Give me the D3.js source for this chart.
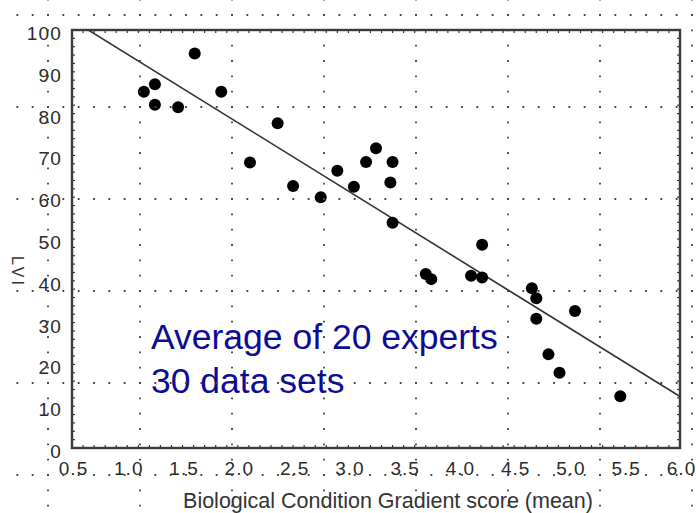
<!DOCTYPE html>
<html>
<head>
<meta charset="utf-8">
<script src="https://cdn.jsdelivr.net/npm/d3@7"></script>
<style>
  html, body { margin: 0; padding: 0; background: #fff; }
  svg { display: block; }
</style>
</head>
<body>
<svg id="chart" width="696" height="513"></svg>
<script>
// BCG score (mean of experts) for each data set
const bcgScore = [1.15, 1.25, 1.25, 1.46, 1.61, 1.85, 2.11, 2.36, 2.50, 2.75,
                  2.90, 3.05, 3.16, 3.25, 3.40, 3.38, 3.40, 3.70, 3.75, 4.11,
                  4.21, 4.21, 4.66, 4.70, 4.70, 5.05, 4.81, 4.91, 5.46];
// LVI value for each data set
const lviValue = [85.2, 87.0, 82.1, 81.5, 94.4, 85.2, 68.3, 77.7, 62.7, 60.0,
                  66.3, 62.5, 68.4, 71.7, 68.4, 63.5, 53.9, 41.6, 40.4, 41.2,
                  40.8, 48.6, 38.2, 35.8, 30.9, 32.8, 22.4, 18.0, 12.4];
// Least-squares fit: LVI = intercept + slope * BCG
const fitIntercept = 110.6;
const fitSlope = -16.38;

const xTicks = [0.5, 1.0, 1.5, 2.0, 2.5, 3.0, 3.5, 4.0, 4.5, 5.0, 5.5, 6.0];
const yTicks = [0, 10, 20, 30, 40, 50, 60, 70, 80, 90, 100];
const noteLines = ["Average of 20 experts", "30 data sets"];

const W = 696, H = 513;
const plot = { left: 72, right: 680, top: 30, bottom: 448 };

const svg = d3.select("#chart");
const x = d3.scaleLinear().domain([0.5, 6.0]).range([plot.left, plot.right]);
const y = d3.scaleLinear().domain([0, 100]).range([plot.bottom, plot.top]);

svg.append("defs").append("clipPath").attr("id", "plotClip")
  .append("rect")
  .attr("x", plot.left).attr("y", plot.top)
  .attr("width", plot.right - plot.left).attr("height", plot.bottom - plot.top);

// Minor inward ticks on all four sides of the frame
const frameColor = "#3a3a3a";
const minorX = d3.range(5, 61).map(d => d / 10);
const minorY = d3.range(0, 101, 2);
const tickG = svg.append("g").attr("stroke", frameColor).attr("stroke-width", 1.2);
tickG.selectAll(".mxb").data(minorX).join("line")
  .attr("x1", d => x(d)).attr("x2", d => x(d))
  .attr("y1", plot.bottom).attr("y2", plot.bottom - 3);
tickG.selectAll(".mxt").data(minorX).join("line")
  .attr("x1", d => x(d)).attr("x2", d => x(d))
  .attr("y1", plot.top).attr("y2", plot.top + 3);
tickG.selectAll(".myl").data(minorY).join("line")
  .attr("x1", plot.left).attr("x2", plot.left + 3)
  .attr("y1", d => y(d)).attr("y2", d => y(d));
tickG.selectAll(".myr").data(minorY).join("line")
  .attr("x1", plot.right).attr("x2", plot.right - 3)
  .attr("y1", d => y(d)).attr("y2", d => y(d));

// Frame
svg.append("rect")
  .attr("x", plot.left).attr("y", plot.top)
  .attr("width", plot.right - plot.left).attr("height", plot.bottom - plot.top)
  .attr("fill", "none").attr("stroke", frameColor).attr("stroke-width", 2.4);

// Axis tick labels
const labelFont = "Liberation Sans, Arial, sans-serif";
svg.append("g").selectAll("text").data(xTicks).join("text")
  .attr("x", d => x(d) + 1.5).attr("y", plot.bottom + 27)
  .attr("text-anchor", "middle")
  .attr("font-family", labelFont)
  .attr("font-size", 19).attr("letter-spacing", 1).attr("fill", "#2a2a2a")
  .text(d => d.toFixed(1));

svg.append("g").selectAll("text").data(yTicks).join("text")
  .attr("x", plot.left - 10).attr("y", d => y(d) + 10)
  .attr("text-anchor", "end")
  .attr("font-family", labelFont)
  .attr("font-size", 19).attr("letter-spacing", 1.2).attr("fill", "#2a2a2a")
  .text(d => d);

// Axis titles
svg.append("text")
  .attr("x", 388).attr("y", 508)
  .attr("text-anchor", "middle")
  .attr("font-family", labelFont)
  .attr("font-size", 21.5).attr("fill", "#333")
  .text("Biological Condition Gradient score (mean)");

svg.append("text")
  .attr("transform", "translate(12,272) rotate(90)")
  .attr("text-anchor", "middle")
  .attr("font-family", labelFont)
  .attr("font-size", 16).attr("letter-spacing", 3).attr("fill", "#333")
  .text("LVI");

// Regression line
const fitX = [0.5, 6.0];
svg.append("path")
  .attr("clip-path", "url(#plotClip)")
  .attr("d", d3.line().x(d => x(d)).y(d => y(fitIntercept + fitSlope * d))(fitX))
  .attr("fill", "none").attr("stroke", "#333").attr("stroke-width", 1.6);

// Data points
const pts = bcgScore.map((b, i) => ({ b, v: lviValue[i] }));
svg.append("g").selectAll("circle").data(pts).join("circle")
  .attr("cx", d => x(d.b)).attr("cy", d => y(d.v))
  .attr("r", 6).attr("fill", "#000");

// Annotation
svg.append("g").selectAll("text").data(noteLines).join("text")
  .attr("x", 151).attr("y", (d, i) => 349 + i * 43.5)
  .attr("font-family", labelFont)
  .attr("font-size", 35.5).attr("fill", "#0b0b96")
  .text(d => d);

// Dotted layout grid laid over the whole page
const gridStep = 92, gridX0 = 48, gridY0 = 15, dotGap = gridStep / 6;
const gridCols = d3.range(gridX0, W + 1, gridStep);
const gridRows = d3.range(gridY0, H + 1, gridStep);
const gridG = svg.append("g").attr("stroke", "#444").attr("stroke-width", 1.8)
  .attr("stroke-dasharray", `1.8 ${dotGap - 1.8}`);
gridG.selectAll(".gc").data(gridCols).join("line")
  .attr("x1", d => d).attr("x2", d => d)
  .attr("y1", gridY0 - 0.9 - dotGap).attr("y2", H);
gridG.selectAll(".gr").data(gridRows).join("line")
  .attr("y1", d => d).attr("y2", d => d)
  .attr("x1", gridX0 - 0.9 - 2 * dotGap).attr("x2", W);
</script>
</body>
</html>
